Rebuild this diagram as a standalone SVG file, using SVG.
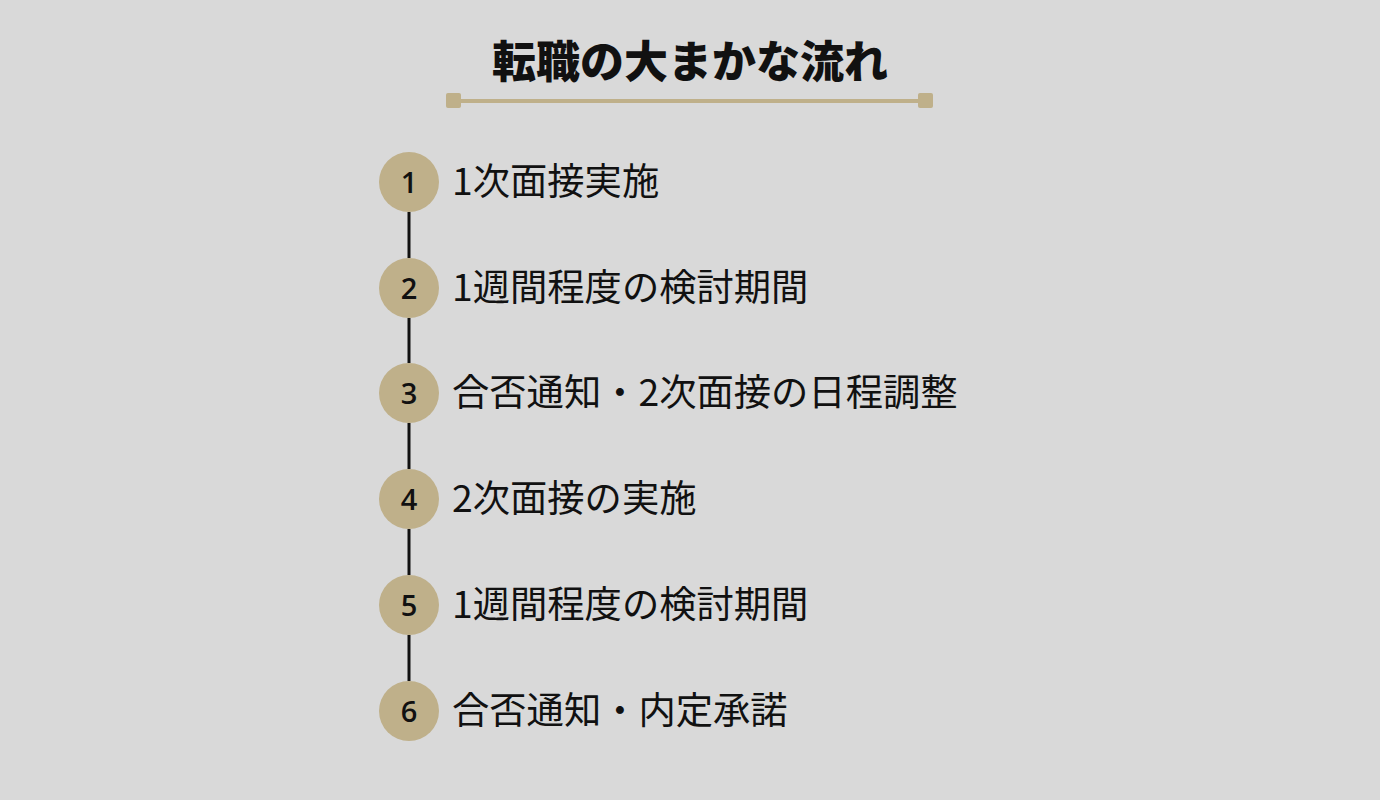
<svg xmlns="http://www.w3.org/2000/svg" width="1380" height="800" viewBox="0 0 1380 800">
<style>
.bg{fill:#d9d9d9}
.title{font-family:"Noto Sans CJK JP",sans-serif;font-weight:900;font-size:44px;fill:#111;text-anchor:middle}
.deco{fill:#bfb08a}
.dl{stroke:#bfb08a;stroke-width:4}
.circ{fill:#bfb08a}
.num{font-family:"Open Sans","Noto Sans",sans-serif;font-weight:600;font-size:29px;fill:#111;text-anchor:middle}
.lbl{font-family:"Noto Sans CJK JP",sans-serif;font-size:37.3px;fill:#111}
.conn{stroke:#111;stroke-width:3}
</style>
<rect class="bg" x="0" y="0" width="1380" height="800"/>
<g id="title">
<text class="title" x="690" y="78">転職の大まかな流れ</text>
<line class="dl" x1="455" y1="101" x2="925" y2="101"/>
<rect class="deco" x="446" y="93" width="15" height="15" rx="2"/>
<rect class="deco" x="918" y="93" width="15" height="15" rx="2"/>
</g>
<g id="connectors">
<line class="conn" x1="409" y1="212" x2="409" y2="258"/>
<line class="conn" x1="409" y1="318" x2="409" y2="363"/>
<line class="conn" x1="409" y1="423" x2="409" y2="469"/>
<line class="conn" x1="409" y1="529" x2="409" y2="575"/>
<line class="conn" x1="409" y1="635" x2="409" y2="681"/>
</g>
<g id="step1"><circle class="circ" cx="409" cy="182" r="30"/><text class="num" x="409" y="192.5">1</text><text class="lbl" x="452" y="195">1次面接実施</text></g>
<g id="step2"><circle class="circ" cx="409" cy="288" r="30"/><text class="num" x="409" y="298.5">2</text><text class="lbl" x="452" y="301">1週間程度の検討期間</text></g>
<g id="step3"><circle class="circ" cx="409" cy="393" r="30"/><text class="num" x="409" y="403.5">3</text><text class="lbl" x="452" y="406">合否通知・2次面接の日程調整</text></g>
<g id="step4"><circle class="circ" cx="409" cy="499" r="30"/><text class="num" x="409" y="509.5">4</text><text class="lbl" x="452" y="512">2次面接の実施</text></g>
<g id="step5"><circle class="circ" cx="409" cy="605" r="30"/><text class="num" x="409" y="615.5">5</text><text class="lbl" x="452" y="618">1週間程度の検討期間</text></g>
<g id="step6"><circle class="circ" cx="409" cy="711" r="30"/><text class="num" x="409" y="721.5">6</text><text class="lbl" x="452" y="724">合否通知・内定承諾</text></g>
</svg>
